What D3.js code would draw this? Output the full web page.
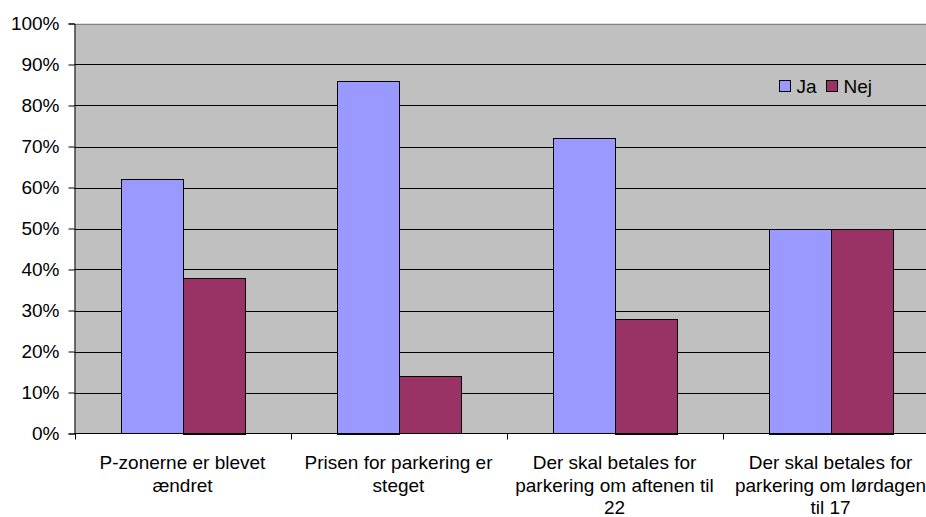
<!DOCTYPE html>
<html><head><meta charset="utf-8">
<script src="https://cdn.jsdelivr.net/npm/d3@7"></script>
<style>body{margin:0;background:#fff;}svg{display:block;font-family:"Liberation Sans",Arial,sans-serif;}</style>
</head><body>
<svg id="c" width="926" height="517"></svg>
<script>
const categories = ["P-zonerne er blevet\nændret", "Prisen for parkering er\nsteget", "Der skal betales for\nparkering om aftenen til\n22", "Der skal betales for\nparkering om lørdagen\ntil 17"];
const seriesNames = ["Ja", "Nej"];
const jaValues = [62, 86, 72, 50];
const nejValues = [38, 14, 28, 50];
const yTicks = [0, 10, 20, 30, 40, 50, 60, 70, 80, 90, 100];
const colors = ["#9999FF", "#993366"];

const FS = 19;
const svg = d3.select("#c");
const L = 74.5, R = 938.5, T = 23.5, B = 433.5;
const x = d3.scaleBand().domain(categories).range([L, R]).paddingInner(0).paddingOuter(0);
const x1 = d3.scaleBand().domain(seriesNames).range([0, x.bandwidth()]).paddingInner(0).paddingOuter(0.75);
const y = d3.scaleLinear().domain([0, 100]).range([B, T]);

svg.append("rect").attr("x", L).attr("y", T).attr("width", R - L).attr("height", B - T).attr("fill", "#C0C0C0");

// gridlines
svg.append("g").selectAll("line").data(yTicks.filter(d => d > 0)).join("line")
  .attr("x1", L).attr("x2", R).attr("y1", d => Math.round(y(d)) + 0.5).attr("y2", d => Math.round(y(d)) + 0.5)
  .attr("stroke", d => d === 100 ? "#808080" : "#000").attr("stroke-width", 1);

const data = categories.map((c, i) => ({c, vals: [jaValues[i], nejValues[i]]}));
const g = svg.append("g");
data.forEach(d => {
  d.vals.forEach((v, j) => {
    const bx = x(d.c) + x1(seriesNames[j]);
    g.append("rect").attr("x", Math.round(bx) + 0.5).attr("y", Math.round(y(v)) + 0.5)
      .attr("width", Math.round(x1.bandwidth())).attr("height", Math.round(B - y(v)))
      .attr("fill", colors[j]).attr("stroke", "#000").attr("stroke-width", 1);
  });
});

// y axis
const yAxis = d3.axisLeft(y).tickValues(yTicks).tickFormat(d => d + "%").tickSize(6).tickPadding(9);
const ya = svg.append("g").attr("transform", `translate(${L},0)`).call(yAxis);
ya.select(".domain").attr("stroke", "#000");
ya.selectAll(".tick line").attr("stroke", "#000");
ya.selectAll("text").attr("font-size", FS).attr("fill", "#000").attr("font-family", "'Liberation Sans',Arial,sans-serif");

// x axis
const xa = svg.append("g").attr("transform", `translate(0,${B})`);
xa.append("line").attr("x1", L).attr("x2", R).attr("y1", 0).attr("y2", 0).attr("stroke", "#000");
const bounds = categories.map(c => x(c)).concat([R]);
xa.selectAll("line.tk").data(bounds).join("line").attr("class", "tk")
  .attr("x1", d => Math.round(d) + 0.5).attr("x2", d => Math.round(d) + 0.5).attr("y1", 0).attr("y2", 6).attr("stroke", "#000");
categories.forEach(c => {
  const t = xa.append("text").attr("text-anchor", "middle").attr("font-size", FS).attr("fill", "#000")
    .attr("x", x(c) + x.bandwidth() / 2).attr("y", 35.5);
  c.split("\n").forEach((ln, i) => {
    t.append("tspan").attr("x", x(c) + x.bandwidth() / 2).attr("dy", i === 0 ? 0 : 22.5).text(ln);
  });
});

// legend
const lg = svg.append("g");
const legX = [779.5, 826.5];
seriesNames.forEach((s, i) => {
  lg.append("rect").attr("x", legX[i]).attr("y", 80.5).attr("width", 11).attr("height", 11)
    .attr("fill", colors[i]).attr("stroke", "#000");
  lg.append("text").attr("x", legX[i] + 17).attr("y", 93).attr("font-size", FS).attr("fill", "#000").text(s);
});
</script>
</body></html>
